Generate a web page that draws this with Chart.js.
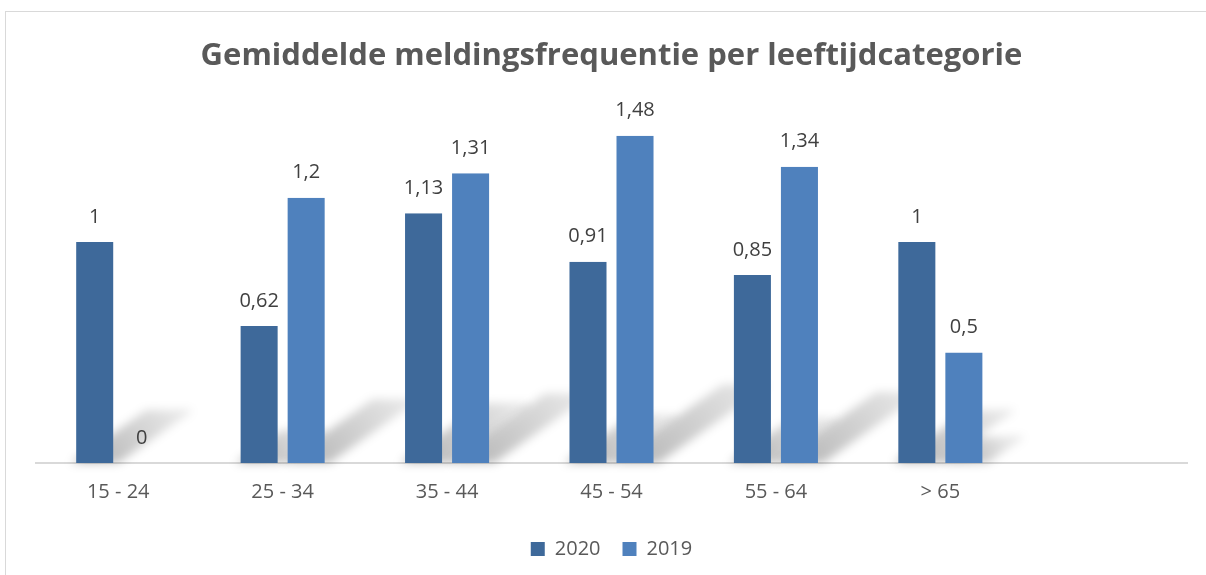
<!DOCTYPE html>
<html lang="nl">
<head>
  <meta charset="UTF-8">
  <title>Gemiddelde meldingsfrequentie</title>
  <script src="https://cdn.jsdelivr.net/npm/chart.js"></script>
  <style>
    body {
      margin: 0;
      padding: 0;
      background: #ffffff;
      font-family: 'Open Sans', sans-serif;
    }
    .wrap {
      position: relative;
      width: 1206px;
      height: 575px;
      overflow: hidden;
    }
    .frame {
      position: absolute;
      left: 5px;
      top: 11px;
      width: 1210px;
      height: 580px;
      border: 1px solid #d9d9d9;
    }
    canvas {
      position: absolute;
      left: 0;
      top: 0;
    }
  </style>
</head>
<body>
  <div class="wrap">
    <div class="frame"></div>
    <canvas id="barCanvas" width="1206" height="575"></canvas>
  </div>

  <script>
    const categories = ['15 - 24', '25 - 34', '35 - 44', '45 - 54', '55 - 64', '> 65', ''];
    const values2020 = [1, 0.62, 1.13, 0.91, 0.85, 1, null];
    const values2019 = [0, 1.2, 1.31, 1.48, 1.34, 0.5, null];

    const textColor = '#595959';

    // soft slanted shadow behind every bar (like the Excel perspective shadow)
    const barShadows = {
      id: 'barShadows',
      beforeDatasetsDraw(chart) {
        const ctx = chart.ctx;
        ctx.save();
        ctx.filter = 'blur(5px)';
        chart.data.datasets.forEach((ds, i) => {
          chart.getDatasetMeta(i).data.forEach((bar, j) => {
            if (!ds.data[j]) return;
            const h = bar.base - bar.y;
            const half = bar.width / 2;
            const dx = h * 0.34, dy = h * 0.24;
            const g = ctx.createLinearGradient(bar.x, bar.base, bar.x + dx, bar.base - dy);
            g.addColorStop(0, 'rgba(0,0,0,0.28)');
            g.addColorStop(1, 'rgba(0,0,0,0.10)');
            ctx.fillStyle = g;
            ctx.beginPath();
            ctx.moveTo(bar.x - half, bar.base);
            ctx.lineTo(bar.x + half, bar.base);
            ctx.lineTo(bar.x + half + dx, bar.base - dy);
            ctx.lineTo(bar.x - half + dx, bar.base - dy);
            ctx.closePath();
            ctx.fill();
          });
        });
        ctx.restore();
      }
    };

    // labels above the bars, with a decimal comma
    const valueLabels = {
      id: 'valueLabels',
      afterDatasetsDraw(chart) {
        const ctx = chart.ctx;
        ctx.save();
        ctx.font = '20px "Open Sans"';
        ctx.fillStyle = '#404040';
        ctx.textAlign = 'center';
        ctx.textBaseline = 'middle';
        chart.data.datasets.forEach((ds, i) => {
          chart.getDatasetMeta(i).data.forEach((bar, j) => {
            const v = ds.data[j];
            if (v === null || v === undefined) return;
            ctx.fillText(String(v).replace('.', ','), bar.x, bar.y - 25);
          });
        });
        ctx.restore();
      }
    };

    const gap = { left: 5, right: 5, top: 0, bottom: 0 };

    new Chart(document.getElementById('barCanvas'), {
      type: 'bar',
      data: {
        labels: categories,
        datasets: [{
          label: '2020',
          data: values2020,
          backgroundColor: '#3E699A',
          borderColor: 'rgba(0,0,0,0)',
          borderWidth: gap
        }, {
          label: '2019',
          data: values2019,
          backgroundColor: '#4F81BD',
          borderColor: 'rgba(0,0,0,0)',
          borderWidth: gap
        }]
      },
      options: {
        responsive: false,
        animation: false,
        categoryPercentage: 0.572,
        barPercentage: 1,
        layout: {
          padding: { left: 36, right: 19, top: 0, bottom: 6 }
        },
        plugins: {
          title: {
            display: true,
            text: 'Gemiddelde meldingsfrequentie per leeftijdcategorie',
            color: textColor,
            font: { family: 'Open Sans', size: 31, weight: 'bold' },
            padding: { top: 38, bottom: 34 }
          },
          legend: {
            position: 'bottom',
            labels: {
              color: textColor,
              boxWidth: 14,
              boxHeight: 14,
              padding: 22,
              font: { family: 'Open Sans', size: 20 }
            }
          },
          tooltip: { enabled: false }
        },
        scales: {
          x: {
            grid: { display: false },
            border: { color: '#d9d9d9', width: 2 },
            ticks: {
              color: textColor,
              padding: 9,
              font: { family: 'Open Sans', size: 20 }
            },
            afterFit(scale) {
              scale.height += 4;
            }
          },
          y: {
            display: false,
            min: 0,
            max: 1.6
          }
        }
      },
      plugins: [barShadows, valueLabels]
    });
  </script>
</body>
</html>
